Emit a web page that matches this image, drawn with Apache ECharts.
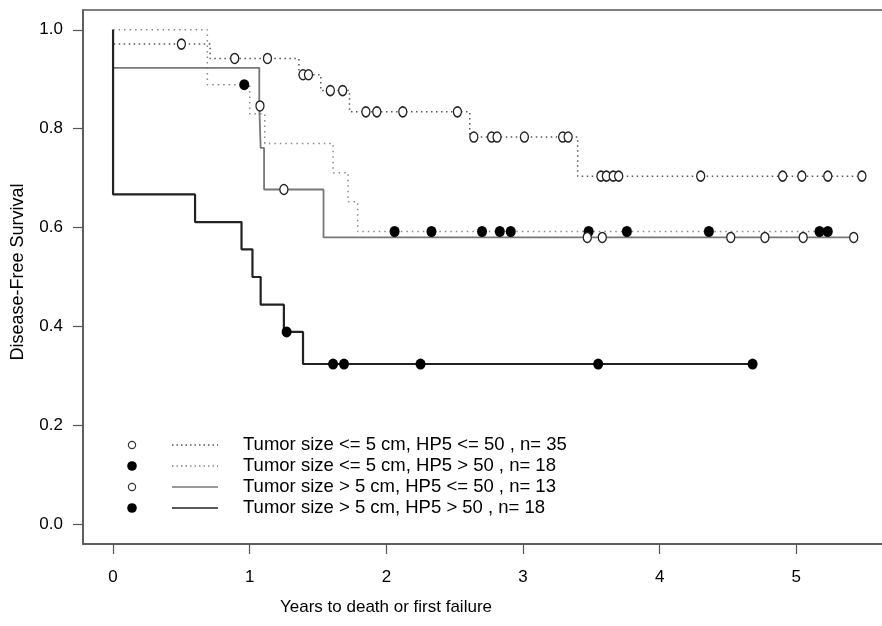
<!DOCTYPE html>
<html><head><meta charset="utf-8">
<script src="https://cdn.jsdelivr.net/npm/echarts@6/dist/echarts.min.js"></script>
<style>html,body{margin:0;padding:0;background:#fff}#c{width:882px;height:626px}</style>
</head><body><div id="c"></div>
<script>
// ---- data ----
const seriesNames = [
  'Tumor size <= 5 cm, HP5 <= 50 , n= 35',
  'Tumor size <= 5 cm, HP5 > 50 , n= 18',
  'Tumor size > 5 cm, HP5 <= 50 , n= 13',
  'Tumor size > 5 cm, HP5 > 50 , n= 18'
];
const xTicks = [0, 1, 2, 3, 4, 5];
const yTicks = [0.0, 0.2, 0.4, 0.6, 0.8, 1.0];
const xTitle = 'Years to death or first failure';
const yTitle = 'Disease-Free Survival';

// group 1: size <= 5, HP5 <= 50
const g1Time = [0, 0, 0.71, 1.36, 1.52, 1.73, 2.61, 3.40, 5.48];
const g1Surv = [1.0, 0.971, 0.942, 0.909, 0.877, 0.834, 0.783, 0.704, 0.704];
const g1Censor = [0.50, 0.89, 1.13, 1.39, 1.43, 1.59, 1.68, 1.85, 1.93, 2.12, 2.52, 2.64, 2.77, 2.81, 3.01, 3.29, 3.33, 3.57, 3.61, 3.66, 3.70, 4.30, 4.90, 5.04, 5.23, 5.48];
// group 2: size <= 5, HP5 > 50
const g2Time = [0, 0.69, 1.00, 1.11, 1.61, 1.72, 1.79, 5.23];
const g2Surv = [1.0, 0.889, 0.830, 0.770, 0.711, 0.652, 0.592, 0.592];
const g2Censor = [0.96, 2.06, 2.33, 2.70, 2.83, 2.91, 3.48, 3.76, 4.36, 5.17, 5.23];
// group 3: size > 5, HP5 <= 50
const g3Time = [0, 0, 1.07, 1.08, 1.105, 1.54, 5.42];
const g3Surv = [1.0, 0.923, 0.846, 0.761, 0.677, 0.580, 0.580];
const g3Censor = [1.075, 1.25, 3.47, 3.58, 4.52, 4.77, 5.05, 5.42];
// group 4: size > 5, HP5 > 50
const g4Time = [0, 0, 0.60, 0.94, 1.02, 1.08, 1.25, 1.39, 4.68];
const g4Surv = [1.0, 0.667, 0.611, 0.556, 0.500, 0.444, 0.389, 0.324, 0.324];
const g4Censor = [1.27, 1.61, 1.69, 2.25, 3.55, 4.68];

// ---- helpers ----
function stepData(t, s) { return t.map((v, i) => [v, s[i]]); }
function survAt(t, s, x) { let v = s[0]; for (let i = 0; i < t.length; i++) { if (t[i] <= x) v = s[i]; } return v; }
function censorData(t, s, c) { return c.map(x => [x, survAt(t, s, x)]); }

const FONT = '"Liberation Sans", Arial, Helvetica, sans-serif';
const styles = [
  { line: { color: '#555', width: 1.5, type: [1.5, 3.5] }, open: true },
  { line: { color: '#888', width: 1.5, type: [1.5, 4] }, open: false },
  { line: { color: '#777', width: 1.8, type: 'solid' }, open: true },
  { line: { color: '#222', width: 2.2, type: 'solid' }, open: false }
];
const groups = [
  [g1Time, g1Surv, g1Censor],
  [g2Time, g2Surv, g2Censor],
  [g3Time, g3Surv, g3Censor],
  [g4Time, g4Surv, g4Censor]
];

const series = [];
groups.forEach((g, i) => {
  series.push({
    name: seriesNames[i], type: 'line', step: 'end', showSymbol: false, silent: true,
    data: stepData(g[0], g[1]), lineStyle: styles[i].line, z: 2
  });
});
groups.forEach((g, i) => {
  const open = styles[i].open;
  series.push({
    name: seriesNames[i] + ' (censored)', type: 'scatter', silent: true,
    data: censorData(g[0], g[1], g[2]),
    symbol: 'circle',
    symbolSize: open ? [8, 10] : [10, 11],
    itemStyle: open ? { color: '#fff', borderColor: '#222', borderWidth: 1.4, opacity: 1 }
                    : { color: '#000', borderColor: '#000', borderWidth: 0, opacity: 1 },
    z: 3
  });
});

// legend built as graphics (symbol + line sample + text)
const legendY = [445, 466, 487, 508];
const graphic = [];
seriesNames.forEach((n, i) => {
  const y = legendY[i];
  const st = styles[i];
  graphic.push(st.open
    ? { type: 'circle', shape: { cx: 132, cy: y, r: 3.6 }, style: { fill: '#fff', stroke: '#333', lineWidth: 1.2 } }
    : { type: 'circle', shape: { cx: 132, cy: y, r: 4.8 }, style: { fill: '#000' } });
  graphic.push({ type: 'line', shape: { x1: 172, y1: y, x2: 218, y2: y },
    style: { stroke: st.line.color, lineWidth: 1.5,
             lineDash: st.line.type === 'solid' ? null : [1.5, 3] } });
  graphic.push({ type: 'text', x: 243, y: y, style: { text: n, font: '18.5px ' + FONT, fill: '#000', verticalAlign: 'middle', align: 'left' } });
});
graphic.push({ type: 'text', x: 386, y: 607, style: { text: xTitle, font: '17px ' + FONT, fill: '#000', align: 'center', verticalAlign: 'middle' } });
graphic.push({ type: 'text', x: 18, y: 272, rotation: Math.PI / 2, style: { text: yTitle, font: '18px ' + FONT, fill: '#000', align: 'center', verticalAlign: 'middle' } });

const axisColor = '#555';
const chart = echarts.init(document.getElementById('c'), null, { renderer: 'canvas' });
chart.setOption({
  animation: false,
  backgroundColor: '#fff',
  grid: { left: 83, right: -10, top: 10, bottom: 82, show: true, borderColor: axisColor, borderWidth: 1.5, containLabel: false, outerBoundsMode: 'none' },
  xAxis: {
    type: 'value', min: -0.22, max: 5.70,
    axisLine: { show: true, onZero: false, lineStyle: { color: axisColor, width: 1.5 } },
    axisTick: { show: true, customValues: xTicks, length: 10, lineStyle: { color: axisColor, width: 1.2 } },
    axisLabel: { customValues: xTicks, margin: 25, fontSize: 17, fontFamily: FONT, color: '#000' },
    splitLine: { show: false }
  },
  yAxis: {
    type: 'value', min: -0.04, max: 1.04,
    axisLine: { show: true, onZero: false, lineStyle: { color: axisColor, width: 1.5 } },
    axisTick: { show: true, customValues: yTicks, length: 10, lineStyle: { color: axisColor, width: 1.2 } },
    axisLabel: { customValues: yTicks, margin: 20, fontSize: 17, fontFamily: FONT, color: '#000', formatter: v => v.toFixed(1) },
    splitLine: { show: false }
  },
  series: series,
  graphic: graphic
});
</script></body></html>
